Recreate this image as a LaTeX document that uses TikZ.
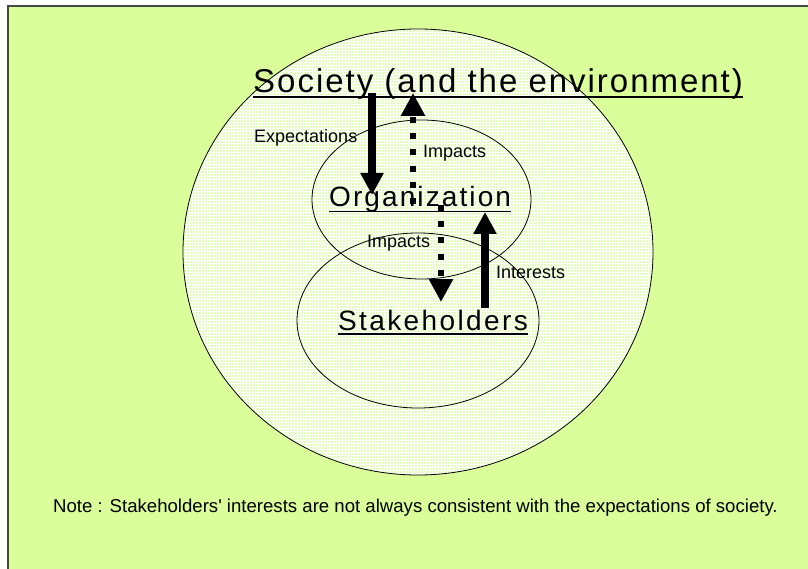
\documentclass[tikz,border=0pt]{standalone}
\usepackage{fontspec}
\setmainfont{Liberation Sans}
\usetikzlibrary{arrows.meta,patterns}

\definecolor{slidegreen}{RGB}{218,254,154}
\definecolor{ringgreen}{RGB}{228,255,188}
\definecolor{framegrey}{RGB}{70,70,70}

\begin{document}
\begin{tikzpicture}[x=1pt,y=-1pt,
  ring/.style={fill=ringgreen,postaction={pattern=grid,pattern color=white}},
  heading/.style={inner sep=0pt,anchor=base west},
  tag/.style={inner sep=0pt,anchor=base west,font=\fontsize{18}{21}\selectfont},
  push/.style={line width=7.5pt,-{Triangle[length=22pt,width=22pt]}},
  effect/.style={line width=6.5pt,dash pattern=on 6pt off 10.2pt,-{Triangle[length=23pt,width=23pt]}},
  rule/.style={line width=1.4pt}]

  \clip (0,0) rectangle (808,569);
  % slide background, only its top and left edge are in view
  \fill[slidegreen] (8,6) rectangle (815,575);
  \draw[framegrey,line width=2pt] (8,575) -- (8,6) -- (815,6);

  % rings: fills first, outlines on top so both arcs show where they overlap
  \def\rings{418/252/235/223, 421.5/199.5/109.5/79.5, 418/320.5/121/87.5}
  \foreach \cx/\cy/\rx/\ry in \rings
    \fill[ring] (\cx,\cy) ellipse [x radius=\rx pt, y radius=\ry pt];
  \foreach \cx/\cy/\rx/\ry in \rings
    \draw[line width=0.8pt] (\cx,\cy) ellipse [x radius=\rx pt, y radius=\ry pt];

  \node[heading,font={\fontsize{33}{38}\selectfont\addfontfeature{LetterSpace=6}}] (soc) at (253,93) {Society (and the environment)};
  \node[heading,font={\fontsize{28}{32}\selectfont\addfontfeature{LetterSpace=7.5}}] (org) at (329,207) {Organization};
  \node[heading,font={\fontsize{28}{32}\selectfont\addfontfeature{LetterSpace=8.5}}] (stk) at (338,330) {Stakeholders};
  \draw[rule,line width=2pt] ([yshift=-4.5pt]soc.base west) -- ([yshift=-4.5pt]soc.base east);
  \draw[rule] ([yshift=-4.5pt]org.base west) -- ([yshift=-4.5pt]org.base east);
  \draw[rule] ([yshift=-4pt]stk.base west) -- ([yshift=-4pt]stk.base east);

  \node[tag] (expect) at (254,143) {Expectations};
  \node[tag] (impup) at (423,158) {Impacts};
  \node[tag] (impdown) at (367,248) {Impacts};
  \node[tag] (interest) at (496,279) {Interests};

  \draw[push] ([xshift=119pt]soc.base west) -- ([xshift=43pt,yshift=12pt]org.base west);
  \draw[effect] ([xshift=84pt,yshift=3pt]org.base west) -- ([xshift=160pt]soc.base west);
  \draw[effect] ([xshift=112pt,yshift=2pt]org.base west) -- ([xshift=103pt,yshift=28pt]stk.base west);
  \draw[push] ([xshift=147pt,yshift=22pt]stk.base west) -- ([xshift=156pt,yshift=-5pt]org.base west);

  \node[tag,font=\fontsize{18.6}{22}\selectfont] (note) at (53,512) {Note : Stakeholders\textquotesingle{} interests are not always consistent with the expectations of society.};
\end{tikzpicture}
\end{document}
